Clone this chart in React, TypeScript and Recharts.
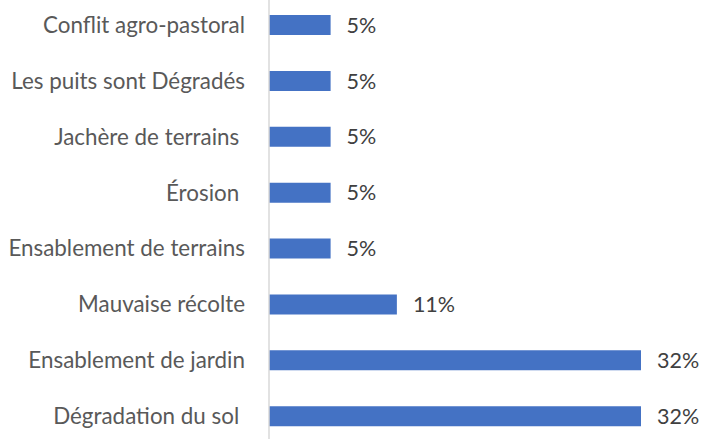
import React from "react";
import { BarChart, Bar, XAxis, YAxis, LabelList } from "recharts";

const categories = [
  "Conflit agro-pastoral",
  "Les puits sont Dégradés",
  "Jachère de terrains ",
  "Érosion ",
  "Ensablement de terrains",
  "Mauvaise récolte",
  "Ensablement de jardin",
  "Dégradation du sol ",
];

const shares = [5.3, 5.3, 5.3, 5.3, 5.3, 11, 32, 32];

const data = categories.map((name, i) => ({ name, value: shares[i] }));

const FONT = "Lato, 'Open Sans', sans-serif";

function CategoryTick(props: any) {
  const { x, y, payload } = props;
  return (
    <text
      x={x}
      y={y}
      dy="0.355em"
      textAnchor="end"
      fill="#595959"
      fontSize={22.4}
      fontFamily={FONT}
      style={{ whiteSpace: "pre" }}
    >
      {payload.value}
    </text>
  );
}

export default function App() {
  return (
    <div
      style={{
        position: "fixed",
        top: 0,
        left: 0,
        width: 713,
        height: 439,
        overflow: "hidden",
        background: "#fff",
      }}
    >
      <div style={{ position: "absolute", top: -3, left: 0 }}>
        <BarChart
          width={713}
          height={447}
          data={data}
          layout="vertical"
          margin={{ top: 0, right: 25.5, bottom: 0, left: 0 }}
        >
          <XAxis type="number" domain={[0, 36]} hide />
          <YAxis
            type="category"
            dataKey="name"
            width={269}
            axisLine={{ stroke: "#d9d9d9", strokeWidth: 1.5 }}
            tickLine={false}
            tickSize={6}
            tickMargin={18}
            tick={<CategoryTick />}
            interval={0}
          />
          <Bar dataKey="value" fill="#4472c4" barSize={20} isAnimationActive={false}>
            <LabelList
              dataKey="value"
              position="right"
              offset={16}
              formatter={(v: any) => `${Math.round(Number(v))}%`}
              fill="#404040"
              fontSize={21.5}
              fontFamily={FONT}
            />
          </Bar>
        </BarChart>
      </div>
    </div>
  );
}
